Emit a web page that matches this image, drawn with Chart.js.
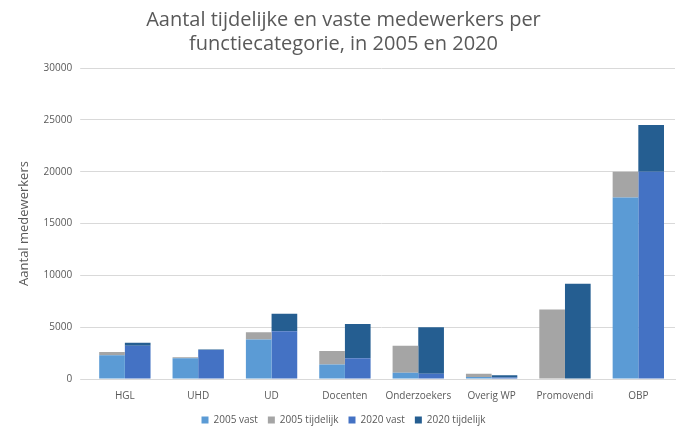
<!DOCTYPE html>
<html><head><meta charset="utf-8">
<script src="https://cdn.jsdelivr.net/npm/chart.js@4"></script>
<style>html,body{margin:0;padding:0;background:#fff}#w{width:685px;height:437px}</style>
</head><body><div id="w"><canvas id="c"></canvas></div>
<script>
const categories = ["HGL","UHD","UD","Docenten","Onderzoekers","Overig WP","Promovendi","OBP"];
const vast2005 = [2300,2000,3800,1400,600,200,0,17500];
const tijdelijk2005 = [300,100,700,1300,2600,300,6700,2500];
const vast2020 = [3200,2800,4600,2000,500,150,0,20000];
const tijdelijk2020 = [300,50,1700,3300,4500,200,9200,4500];
const yTicks = [0,5000,10000,15000,20000,25000,30000];

new Chart(document.getElementById('c'), {
  type: 'bar',
  data: {
    labels: categories,
    datasets: [
      {label:'2005 vast', data:vast2005, backgroundColor:'#5B9BD5', stack:'a'},
      {label:'2005 tijdelijk', data:tijdelijk2005, backgroundColor:'#A5A5A5', stack:'a'},
      {label:'2020 vast', data:vast2020, backgroundColor:'#4472C4', stack:'b'},
      {label:'2020 tijdelijk', data:tijdelijk2020, backgroundColor:'#255E91', stack:'b'}
    ]
  },
  options: {
    responsive:true, maintainAspectRatio:false, animation:false,
    layout:{padding:{left:12,right:10,top:8,bottom:2}},
    datasets:{bar:{categoryPercentage:0.7,barPercentage:1}},
    plugins:{
      title:{display:true,text:['Aantal tijdelijke en vaste medewerkers per','functiecategorie, in 2005 en 2020'],
        color:'#595959',font:{family:'Open Sans',size:20,weight:'normal'},padding:{top:0,bottom:12},lineHeight:1.3},
      legend:{position:'bottom',labels:{boxWidth:7,boxHeight:7,color:'#595959',font:{family:'Open Sans',size:10},padding:10}},
      tooltip:{enabled:false}
    },
    scales:{
      x:{stacked:true,grid:{display:false},border:{color:'#D9D9D9'},
        ticks:{color:'#595959',font:{family:'Open Sans',size:10},maxRotation:0,minRotation:0,autoSkip:false}},
      y:{stacked:true,min:0,max:30000,
        afterBuildTicks:(s)=>{s.ticks=yTicks.map(v=>({value:v}));},
        grid:{color:'#D9D9D9'},border:{display:false},
        ticks:{color:'#595959',font:{family:'Open Sans',size:10},padding:8,callback:v=>String(v)},
        title:{display:true,text:'Aantal medewerkers',color:'#595959',font:{family:'Open Sans',size:13}}}
    }
  }
});
</script></body></html>
